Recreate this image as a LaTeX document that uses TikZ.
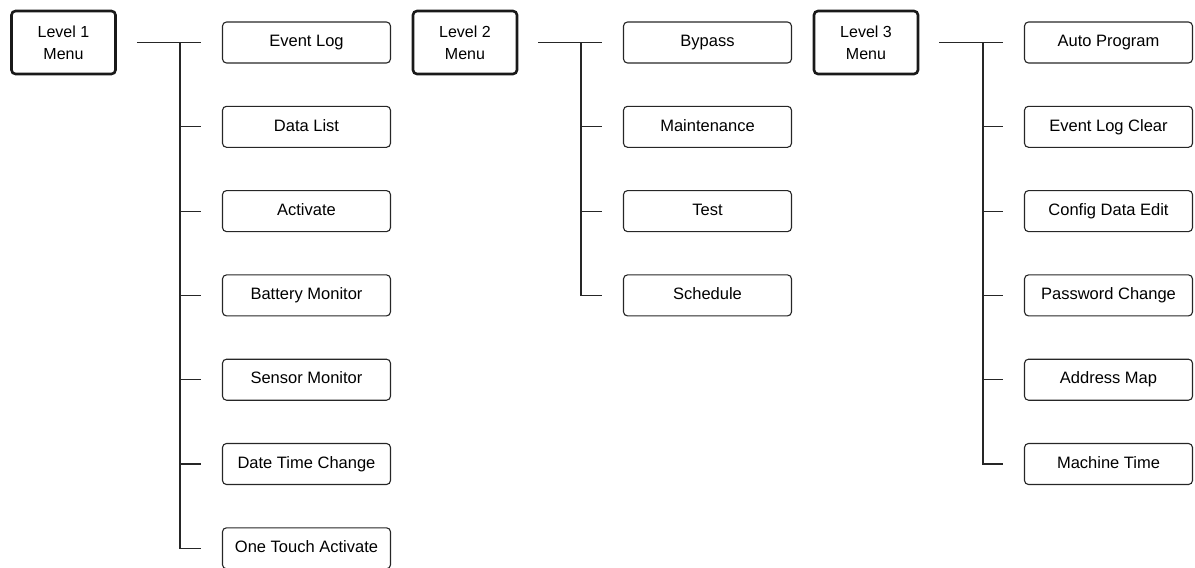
\documentclass[tikz,border=0pt]{standalone}
\usepackage{fontspec}
\setmainfont{Liberation Sans}
\begin{document}
\begin{tikzpicture}[x=1pt,y=-1pt,
  levelbox/.style={draw=black!90, line width=2.6pt, rounded corners=4pt,
    minimum width=104pt, minimum height=63pt, align=center,
    font=\fontsize{16}{22}\selectfont, inner sep=0pt},
  itembox/.style={draw=black!85, line width=1.1pt, rounded corners=4pt,
    minimum width=168pt, minimum height=41pt, text height=11.8pt, text depth=3.4pt,
    font=\fontsize{16.5}{20}\selectfont, inner sep=0pt},
  wire/.style={draw=black!85, line width=1.2pt}]
\useasboundingbox (0,0) rectangle (1195,568);

% level menus
\node[levelbox] (L1) at (63.5,42.5) {Level 1\\Menu};
\node[levelbox] (L2) at (465,42.5) {Level 2\\Menu};
\node[levelbox] (L3) at (866,42.5) {Level 3\\Menu};

% level 1 items
\foreach \name [count=\i from 0] in {Event Log,Data List,Activate,Battery Monitor,Sensor Monitor,Date Time Change,One Touch Activate}
  \node[itembox] (a\i) at (306.5,42.5+84.3*\i) {\name};
% level 2 items
\foreach \name [count=\i from 0] in {Bypass,Maintenance,Test,Schedule}
  \node[itembox] (b\i) at (707.5,42.5+84.3*\i) {\name};
% level 3 items
\foreach \name [count=\i from 0] in {Auto Program,Event Log Clear,Config Data Edit,Password Change,Address Map,Machine Time}
  \node[itembox] (c\i) at (1108.5,42.5+84.3*\i) {\name};

% branch points
\coordinate (ja) at (180,42.5);
\coordinate (jb) at (581,42.5);
\coordinate (jc) at (983,42.5);

% connectors
\draw[wire, shorten <=20pt, shorten >=21pt] (L1) -- (a0);
\draw[wire, shorten <=20pt, shorten >=21pt] (L2) -- (b0);
\draw[wire, shorten <=20pt, shorten >=21pt] (L3) -- (c0);
\foreach \i in {1,...,6} \draw[wire, shorten >=21pt] (ja) |- (a\i);
\foreach \i in {1,...,3} \draw[wire, shorten >=21pt] (jb) |- (b\i);
\foreach \i in {1,...,5} \draw[wire, shorten >=21pt] (jc) |- (c\i);
\end{tikzpicture}
\end{document}
